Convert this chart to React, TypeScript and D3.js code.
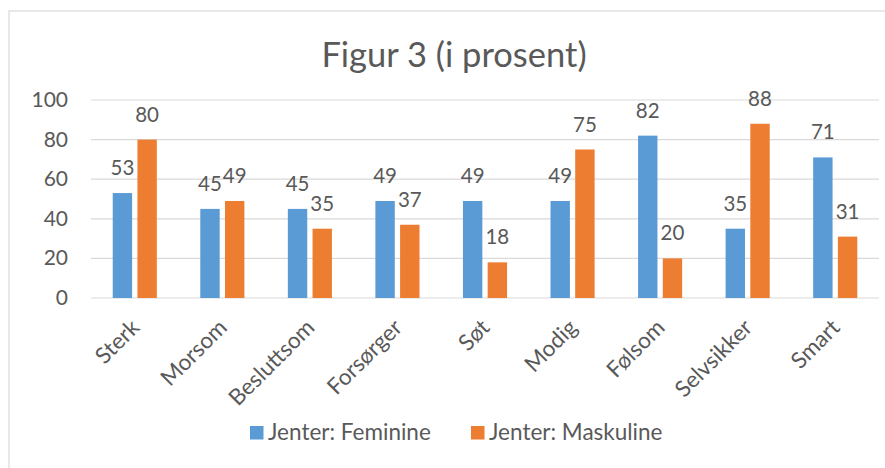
import * as d3 from "d3";

const categories = ["Sterk", "Morsom", "Besluttsom", "Forsørger", "Søt", "Modig", "Følsom", "Selvsikker", "Smart"];
const feminine = [53, 45, 45, 49, 49, 49, 82, 35, 71];
const maskuline = [80, 49, 35, 37, 18, 75, 20, 88, 31];
const seriesNames = ["Jenter: Feminine", "Jenter: Maskuline"];
const yTicks = [0, 20, 40, 60, 80, 100];

const COLORS = ["#5B9BD5", "#ED7D31"];
const TEXT = "#595959";
const GRID = "#D9D9D9";
const FONT = "Lato, 'Open Sans', sans-serif";

const WIDTH = 885;
const HEIGHT = 468;
const PLOT = { left: 91, right: 879, top: 100, bottom: 298 };

export default function App() {
  const series = [feminine, maskuline];

  const x0 = d3.scaleBand().domain(categories).range([PLOT.left, PLOT.right]);
  const groupW = 44.1;
  const x1 = d3
    .scaleBand()
    .domain(seriesNames)
    .range([x0.bandwidth() / 2 - groupW / 2, x0.bandwidth() / 2 + groupW / 2])
    .paddingInner(0.215);
  const y = d3.scaleLinear().domain([0, 100]).range([PLOT.bottom, PLOT.top]);

  return (
    <svg
      width={WIDTH}
      height={HEIGHT}
      style={{ position: "absolute", left: 0, top: 0, background: "#fff" }}
      fontFamily={FONT}
    >
      {/* chart frame, runs off the right and bottom edges */}
      <rect x={9} y={11} width={WIDTH + 20} height={HEIGHT + 20} fill="#fff" stroke={GRID} strokeWidth={1.2} />

      <text x={454} y={67} textAnchor="middle" fontSize={34.5} fill={TEXT}>
        Figur 3 (i prosent)
      </text>

      {yTicks.map((t) => (
        <g key={t}>
          <line x1={PLOT.left} x2={PLOT.right} y1={y(t)} y2={y(t)} stroke={GRID} strokeWidth={1.2} />
          <text x={68} y={y(t) + 7} textAnchor="end" fontSize={21} fill={TEXT}>
            {t}
          </text>
        </g>
      ))}

      {categories.map((c, i) => (
        <g key={c} transform={`translate(${x0(c)},0)`}>
          {series.map((vals, s) => {
            const bx = x1(seriesNames[s]) ?? 0;
            return (
              <g key={s}>
                <rect
                  x={bx}
                  y={y(vals[i])}
                  width={x1.bandwidth()}
                  height={y(0) - y(vals[i])}
                  fill={COLORS[s]}
                />
                <text
                  x={bx + x1.bandwidth() / 2}
                  y={y(vals[i]) - 18}
                  textAnchor="middle"
                  fontSize={20.5}
                  fill={TEXT}
                >
                  {vals[i]}
                </text>
              </g>
            );
          })}
        </g>
      ))}

      {categories.map((c) => {
        const cx = (x0(c) ?? 0) + x0.bandwidth() / 2 + 6;
        const cy = PLOT.bottom + 31;
        return (
          <text
            key={c}
            x={cx}
            y={cy}
            textAnchor="end"
            fontSize={22.5}
            fill={TEXT}
            transform={`rotate(-45 ${cx} ${cy})`}
          >
            {c}
          </text>
        );
      })}

      {seriesNames.map((name, s) => {
        const lx = s === 0 ? 250 : 471;
        return (
          <g key={name}>
            <rect x={lx} y={426} width={13.5} height={13.5} fill={COLORS[s]} />
            <text x={lx + 18} y={440} fontSize={22.5} fill={TEXT}>
              {name}
            </text>
          </g>
        );
      })}
    </svg>
  );
}
